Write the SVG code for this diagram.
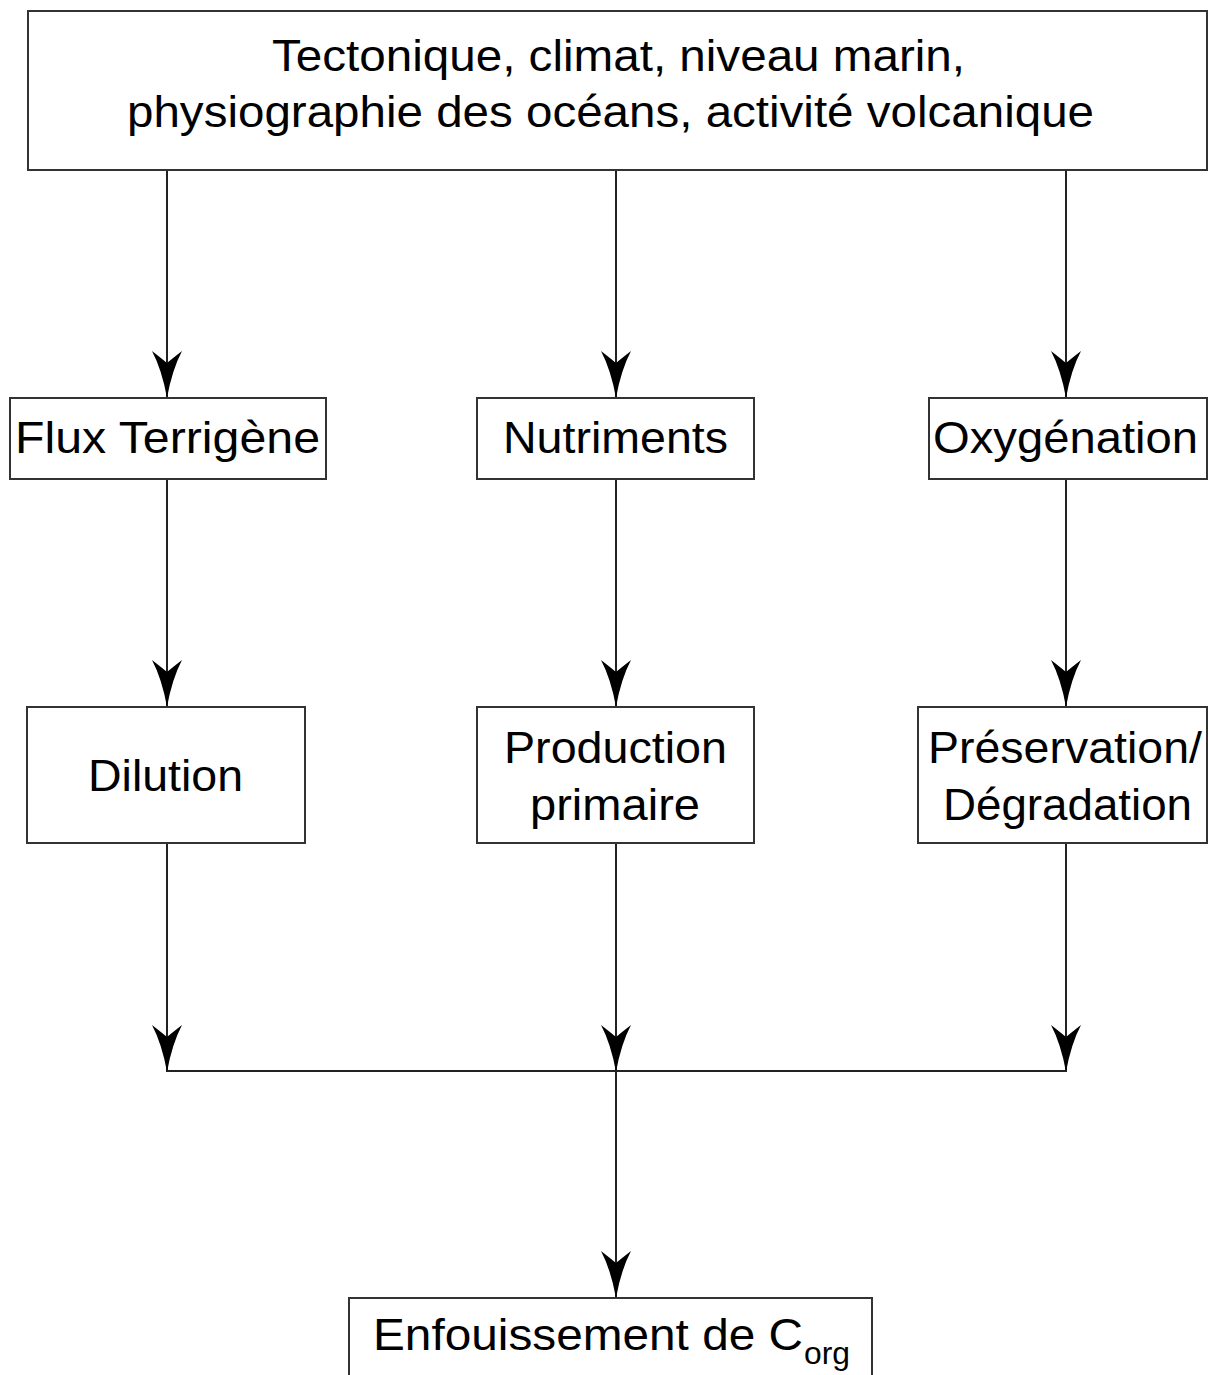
<svg xmlns="http://www.w3.org/2000/svg" width="1208" height="1375" viewBox="0 0 1208 1375">
<style>
.box{fill:#fff;stroke:#333;stroke-width:2}
.t{font-family:"Liberation Sans",Arial,sans-serif;font-size:44px;fill:#000}
.c{stroke:#222;stroke-width:2;fill:none}
</style>
<defs>
<marker id="ah" markerUnits="userSpaceOnUse" markerWidth="52" markerHeight="34" viewBox="-50 -17 52 34" refX="0" refY="0" orient="auto">
<path d="M0,0 Q-28,-5 -47,-15 Q-40,-6 -35,0 Q-40,6 -47,15 Q-28,5 0,0 Z" fill="#000"/>
</marker>
</defs>
<rect width="1208" height="1375" fill="#fff"/>
<g id="connectors">
<line class="c" x1="167" y1="171" x2="167" y2="398" marker-end="url(#ah)"/>
<line class="c" x1="616" y1="171" x2="616" y2="398" marker-end="url(#ah)"/>
<line class="c" x1="1066" y1="171" x2="1066" y2="398" marker-end="url(#ah)"/>
<line class="c" x1="167" y1="479" x2="167" y2="707" marker-end="url(#ah)"/>
<line class="c" x1="616" y1="479" x2="616" y2="707" marker-end="url(#ah)"/>
<line class="c" x1="1066" y1="479" x2="1066" y2="707" marker-end="url(#ah)"/>
<line class="c" x1="167" y1="843" x2="167" y2="1072" marker-end="url(#ah)"/>
<line class="c" x1="616" y1="843" x2="616" y2="1072" marker-end="url(#ah)"/>
<line class="c" x1="1066" y1="843" x2="1066" y2="1072" marker-end="url(#ah)"/>
<line class="c" x1="167" y1="1071" x2="1066" y2="1071"/>
<line class="c" x1="616" y1="1071" x2="616" y2="1298" marker-end="url(#ah)"/>
</g>
<g id="top">
<rect class="box" x="28" y="11" width="1179" height="159"/>
<text class="t" x="272" y="71" font-size="47" textLength="693" lengthAdjust="spacingAndGlyphs">Tectonique, climat, niveau marin,</text>
<text class="t" x="127" y="127" font-size="47" textLength="967" lengthAdjust="spacingAndGlyphs">physiographie des océans, activité volcanique</text>
</g>
<g id="flux">
<rect class="box" x="10" y="398" width="316" height="81"/>
<text class="t" x="15" y="453" textLength="305" lengthAdjust="spacingAndGlyphs">Flux Terrigène</text>
</g>
<g id="nutriments">
<rect class="box" x="477" y="398" width="277" height="81"/>
<text class="t" x="503" y="453" textLength="225" lengthAdjust="spacingAndGlyphs">Nutriments</text>
</g>
<g id="oxygenation">
<rect class="box" x="929" y="398" width="278" height="81"/>
<text class="t" x="933" y="453" textLength="265" lengthAdjust="spacingAndGlyphs">Oxygénation</text>
</g>
<g id="dilution">
<rect class="box" x="27" y="707" width="278" height="136"/>
<text class="t" x="88" y="791" textLength="155" lengthAdjust="spacingAndGlyphs">Dilution</text>
</g>
<g id="production">
<rect class="box" x="477" y="707" width="277" height="136"/>
<text class="t" x="504" y="763" textLength="223" lengthAdjust="spacingAndGlyphs">Production</text>
<text class="t" x="530" y="820" textLength="170" lengthAdjust="spacingAndGlyphs">primaire</text>
</g>
<g id="preservation">
<rect class="box" x="918" y="707" width="289" height="136"/>
<text class="t" x="928" y="763" textLength="274" lengthAdjust="spacingAndGlyphs">Préservation/</text>
<text class="t" x="943" y="820" textLength="249" lengthAdjust="spacingAndGlyphs">Dégradation</text>
</g>
<g id="enfouissement">
<rect class="box" x="349" y="1298" width="523" height="90"/>
<text class="t" x="373" y="1350"><tspan textLength="430" lengthAdjust="spacingAndGlyphs">Enfouissement de C</tspan><tspan x="804" y="1364" font-size="32" textLength="46" lengthAdjust="spacingAndGlyphs">org</tspan></text>
</g>
</svg>
